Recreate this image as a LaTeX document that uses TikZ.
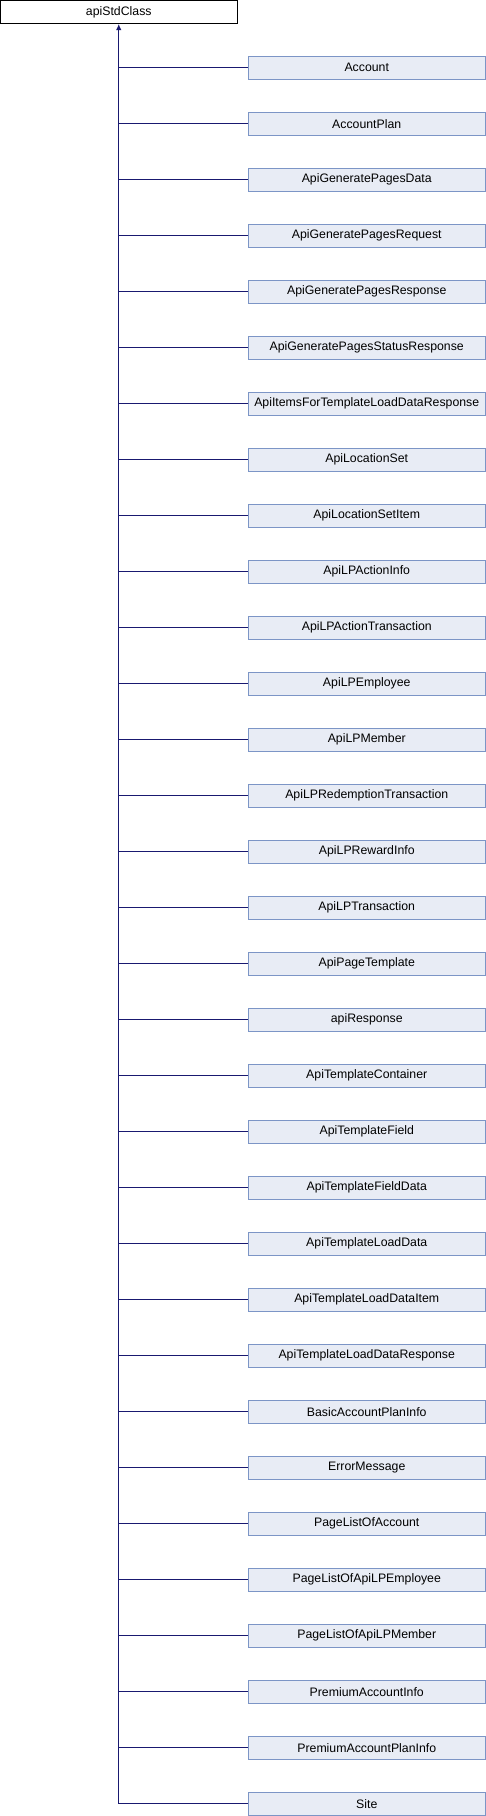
\documentclass[tikz,border=0pt]{standalone}
\usepackage{fontspec}
\setmainfont{Liberation Sans}
\usepackage{xcolor}
\usepackage{tikz}
\usetikzlibrary{positioning,arrows.meta}

\definecolor{boxfill}{HTML}{E8ECF5}
\definecolor{boxline}{HTML}{7C95C6}
\definecolor{edgeblue}{HTML}{191970}

\tikzset{
  base/.style={draw=black,fill=white,line width=1pt,minimum width=237pt,minimum height=23pt,inner sep=0pt,font=\fontsize{12.3}{14}\selectfont},
  derived/.style={draw=boxline,fill=boxfill,line width=1pt,minimum width=237pt,minimum height=23pt,inner sep=0pt,font=\fontsize{12.3}{14}\selectfont},
  edge/.style={draw=edgeblue,line width=1.2pt}
}

\begin{document}
\begin{tikzpicture}[x=1pt,y=-1pt]
\useasboundingbox (0,0) rectangle (486,1816);

\node[base] (apistd) at (118.75,12) {apiStdClass};

\node[derived] (account) at (366.75,67.75) {Account};
\node[derived] (accountplan) at (366.75,123.75) {AccountPlan};
\node[derived] (genpagesdata) at (366.75,179.75) {ApiGeneratePagesData};
\node[derived] (genpagesreq) at (366.75,235.75) {ApiGeneratePagesRequest};
\node[derived] (genpagesresp) at (366.75,291.75) {ApiGeneratePagesResponse};
\node[derived] (genpagesstatus) at (366.75,347.75) {ApiGeneratePagesStatusResponse};
\node[derived] (itemsfortpl) at (366.75,403.75) {ApiItemsForTemplateLoadDataResponse};
\node[derived] (locset) at (366.75,459.75) {ApiLocationSet};
\node[derived] (locsetitem) at (366.75,515.75) {ApiLocationSetItem};
\node[derived] (lpactioninfo) at (366.75,571.75) {ApiLPActionInfo};
\node[derived] (lpactiontrans) at (366.75,627.75) {ApiLPActionTransaction};
\node[derived] (lpemployee) at (366.75,683.75) {ApiLPEmployee};
\node[derived] (lpmember) at (366.75,739.75) {ApiLPMember};
\node[derived] (lpredemption) at (366.75,795.75) {ApiLPRedemptionTransaction};
\node[derived] (lprewardinfo) at (366.75,851.75) {ApiLPRewardInfo};
\node[derived] (lptrans) at (366.75,907.75) {ApiLPTransaction};
\node[derived] (pagetpl) at (366.75,963.75) {ApiPageTemplate};
\node[derived] (apiresp) at (366.75,1019.75) {apiResponse};
\node[derived] (tplcontainer) at (366.75,1075.75) {ApiTemplateContainer};
\node[derived] (tplfield) at (366.75,1131.75) {ApiTemplateField};
\node[derived] (tplfielddata) at (366.75,1187.75) {ApiTemplateFieldData};
\node[derived] (tplloaddata) at (366.75,1243.75) {ApiTemplateLoadData};
\node[derived] (tplloaditem) at (366.75,1299.75) {ApiTemplateLoadDataItem};
\node[derived] (tplloadresp) at (366.75,1355.75) {ApiTemplateLoadDataResponse};
\node[derived] (basicplaninfo) at (366.75,1411.75) {BasicAccountPlanInfo};
\node[derived] (errmsg) at (366.75,1467.75) {ErrorMessage};
\node[derived] (placcount) at (366.75,1523.75) {PageListOfAccount};
\node[derived] (plemployee) at (366.75,1579.75) {PageListOfApiLPEmployee};
\node[derived] (plmember) at (366.75,1635.75) {PageListOfApiLPMember};
\node[derived] (premiuminfo) at (366.75,1691.75) {PremiumAccountInfo};
\node[derived] (premiumplan) at (366.75,1747.75) {PremiumAccountPlanInfo};
\node[derived] (site) at (366.75,1803.75) {Site};

% trunk with arrow up to the base class
\draw[edge,-{Latex[length=6pt,width=5.5pt]}] (site.west) -| (apistd.south);

% branches
\foreach \c in {account,accountplan,genpagesdata,genpagesreq,genpagesresp,genpagesstatus,
  itemsfortpl,locset,locsetitem,lpactioninfo,lpactiontrans,lpemployee,lpmember,lpredemption,
  lprewardinfo,lptrans,pagetpl,apiresp,tplcontainer,tplfield,tplfielddata,tplloaddata,
  tplloaditem,tplloadresp,basicplaninfo,errmsg,placcount,plemployee,plmember,premiuminfo,premiumplan}
  \draw[edge] (\c.west) -- (\c.west -| apistd.south);
\end{tikzpicture}
\end{document}
